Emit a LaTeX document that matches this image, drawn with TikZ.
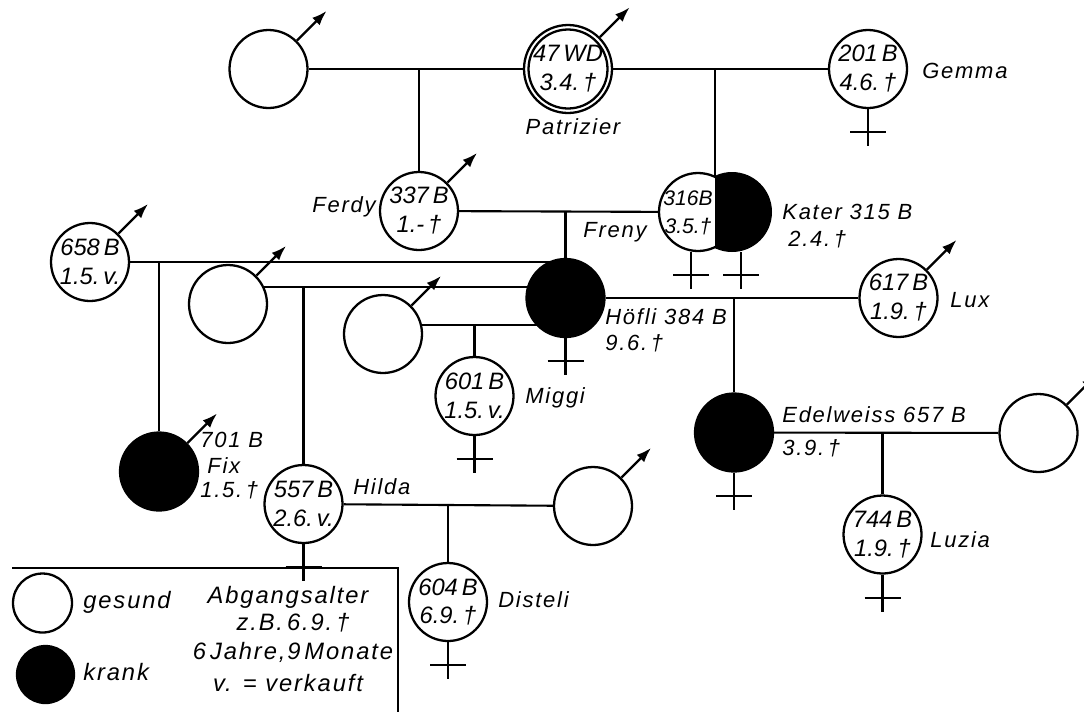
\documentclass[tikz,border=0pt]{standalone}
\usepackage{fontspec}
\setmainfont{Liberation Sans}
\newfontfamily\labfont[LetterSpace=8]{Liberation Sans}
\usetikzlibrary{arrows.meta,backgrounds}
\tikzset{
  circ/.style={circle,draw,line width=1.3pt,fill=white,minimum size=1.56cm,inner sep=0pt,align=center,
    font={\itshape\fontsize{13.5}{16.5}\selectfont}},
  sick/.style={circ,fill=black},
  conn/.style={line width=1.2pt},
  symline/.style={line width=1.2pt},
  malearrow/.style={line width=1.3pt,-{Latex[length=8.5pt,width=6pt]}},
  lab/.style={inner sep=0pt,font={\labfont\itshape\fontsize{12.5}{15}\selectfont}},
  leg/.style={inner sep=0pt,font={\labfont\itshape\fontsize{13.5}{15}\selectfont}},
}
\newcommand\femsym[1]{\draw[symline] (#1) -- ++(0,37) (#1) ++(-18,23) -- ++(36,0);}
\newcommand\malesym[1]{\draw[malearrow] (#1.45) -- ++(45:0.84cm);}
\begin{document}
\begin{tikzpicture}[x=0.02cm,y=-0.02cm]
\useasboundingbox (0,0) rectangle (1084,711);
% persons
\node[circ] (u1) at (268.5,69) {};
\node[circ,minimum size=1.76cm] (pat) at (568,69) {47\,WD\\3.4.\,†};
\draw[line width=1.3pt] (pat.center) circle (0.79cm);
\node[circ] (gem) at (868,69) {201\,B\\4.6.\,†};
\node[circ] (ferdy) at (419,211) {337\,B\\1.-\,†};
\node[circ] (f316) at (698,212) {};
\node[circle,minimum size=1.6cm,inner sep=0pt] (kater) at (732,212) {};
\coordinate (split) at (715,212);
\begin{scope}
  \clip (715,150) rectangle (800,280);
  \fill (kater.center) circle (0.8cm);
\end{scope}
\node[inner sep=0pt,font={\itshape\fontsize{12}{16}\selectfont},align=center] (t316) at (688,213) {316B\\3.5.†};
\node[sick] (hoefli) at (565.5,298) {};
\node[circ] (n658) at (90,262) {658\,B\\1.5.\,v.};
\node[circ] (u2) at (228,304) {};
\node[circ] (u3) at (383,334) {};
\node[circ] (miggi) at (474.5,396) {601\,B\\1.5.\,v.};
\node[circ] (lux) at (898.5,298) {617\,B\\1.9.\,†};
\node[sick] (edel) at (734,432.5) {};
\node[circ] (u5) at (1038.5,433) {};
\node[circ] (luzia) at (882.5,534.5) {744\,B\\1.9.\,†};
\node[sick] (fix) at (159,471.5) {};
\node[circ] (hilda) at (303.5,504) {557\,B\\2.6.\,v.};
\node[circ] (u6) at (593,506) {};
\node[circ] (dist) at (448,602) {604\,B\\6.9.\,†};
% connectors
\begin{pgfonlayer}{background}
\draw[conn] (u1) -- (pat);
\draw[conn] (pat) -- (gem);
\draw[conn] (ferdy.north) -- (ferdy.north |- pat.center);
\draw[conn] (split) -- (split |- pat.center);
\draw[conn] (ferdy) -- (f316);
\draw[conn] (hoefli.north) -- (hoefli.north |- ferdy.center);
\draw[conn] (n658.east) -- (n658.east -| hoefli.center);
\draw[conn] (fix.north) -- (fix.north |- n658.east);
\draw[conn] (u2.25) -- (u2.25 -| hoefli.center);
\draw[conn] (hilda.north) -- (hilda.north |- u2.25);
\draw[conn] (u3.13) -- (u3.13 -| hoefli.center);
\draw[conn] (miggi.north) -- (miggi.north |- u3.13);
\draw[conn] (hoefli) -- (lux);
\draw[conn] (edel.north) -- (edel.north |- hoefli.center);
\draw[conn] (edel) -- (u5);
\draw[conn] (luzia.north) -- (luzia.north |- edel.center);
\draw[conn] (hilda) -- (u6);
\draw[conn] (dist.north) -- (dist.north |- hilda.center);
\end{pgfonlayer}
% male symbols
\malesym{u1}
\malesym{pat}
\malesym{ferdy}
\malesym{n658}
\malesym{u2}
\malesym{u3}
\malesym{lux}
\malesym{fix}
\malesym{u6}
\malesym{u5}
% female symbols
\femsym{gem.south}
\femsym{[xshift=-0.14cm]f316.south}
\femsym{[xshift=0.18cm]kater.south}
\femsym{hoefli.south}
\femsym{miggi.south}
\femsym{edel.south}
\femsym{luzia.south}
\femsym{hilda.south}
\femsym{dist.south}
% labels
\node[lab] (lpat) at (573,127) {Patrizier};
\node[lab,anchor=west] (lgem) at (922,71) {Gemma};
\node[lab,anchor=east] (lferdy) at (376,207) {Ferdy};
\node[lab,anchor=west] (lfreny) at (583,232) {Freny};
\node[lab,anchor=west] (lkater) at (782,212) {Kater 315 B};
\node[lab,anchor=west] (lkater2) at (788,239) {2.4.\,†};
\node[lab,anchor=west] (lhoefli) at (605,317) {Höfli 384 B};
\node[lab,anchor=west] (lhoefli2) at (605,343) {9.6.\,†};
\node[lab,anchor=west] (llux) at (950,300) {Lux};
\node[lab,anchor=west] (lmiggi) at (525,398) {Miggi};
\node[lab,anchor=west] (ledel) at (782,415) {Edelweiss 657 B};
\node[lab,anchor=west] (ledel2) at (782,448) {3.9.\,†};
\node[lab,anchor=west] (lluzia) at (930,540) {Luzia};
\node[lab,anchor=west] (lfix1) at (200,440) {701 B};
\node[lab,anchor=west] (lfix2) at (207,466) {Fix};
\node[lab,anchor=west] (lfix3) at (200,490) {1.5.\,†};
\node[lab,anchor=west] (lhilda) at (353,487) {Hilda};
\node[lab,anchor=west] (ldist) at (498,600) {Disteli};
% legend
\draw[conn] (12,568) -- (398,568) -- (398,720);
\node[circ,minimum size=1.18cm] (lgw) at (42.5,603) {};
\node[sick,minimum size=1.14cm] (lgb) at (45.5,674.5) {};
\node[leg,anchor=west] (lges) at (83,602) {gesund};
\node[leg,anchor=west] (lkr) at (83,672) {krank};
\node[leg] (la1) at (288,597) {Abgangsalter};
\node[leg] (la2) at (293,623) {z.B.\,6.9.\,†};
\node[leg] (la3) at (293,652) {6\,Jahre,9\,Monate};
\node[leg] (la4) at (288,683) {v. = verkauft};
\end{tikzpicture}
\end{document}
